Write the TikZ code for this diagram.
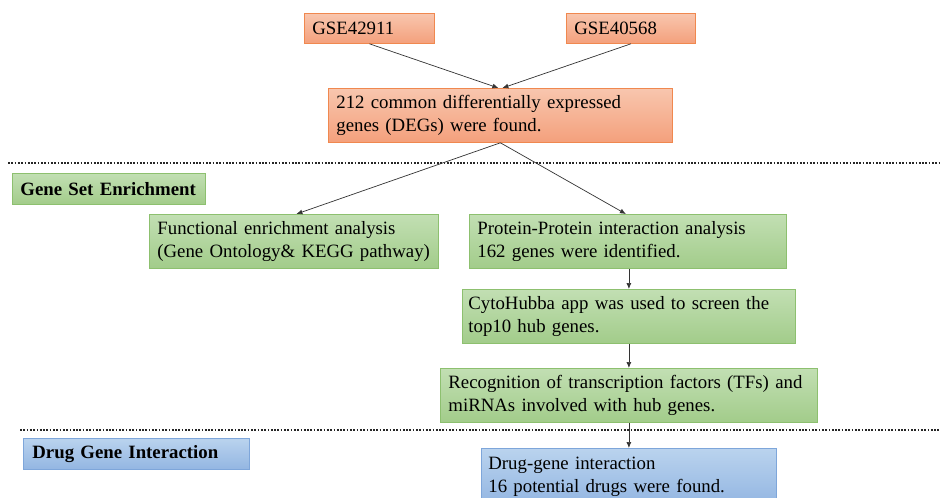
\documentclass[tikz,border=0pt]{standalone}
\usepackage{fontspec}
\setmainfont{Liberation Serif}
\usetikzlibrary{arrows.meta,calc}
\definecolor{orTop}{HTML}{F8C6AE}
\definecolor{orBot}{HTML}{F4A07C}
\definecolor{orLine}{HTML}{F0884F}
\definecolor{grTop}{HTML}{C2DFB3}
\definecolor{grBot}{HTML}{A2CC8A}
\definecolor{grLine}{HTML}{8DC06F}
\definecolor{blTop}{HTML}{BAD3EE}
\definecolor{blBot}{HTML}{93B6E2}
\definecolor{blLine}{HTML}{7EA6DA}
\definecolor{arr}{HTML}{333333}
\begin{document}
\begin{tikzpicture}[x=1pt,y=-1pt,
  font=\fontsize{18.8}{23}\selectfont,
  box/.style={draw, rectangle, anchor=north west, inner xsep=8pt, inner ysep=0pt,
    align=left, line width=0.8pt},
  obox/.style={box, draw=orLine, top color=orTop, bottom color=orBot},
  gbox/.style={box, draw=grLine, top color=grTop, bottom color=grBot},
  bbox/.style={box, draw=blLine, top color=blTop, bottom color=blBot},
  conn/.style={draw=arr, line width=0.7pt, -{Latex[length=6pt,width=5pt]}},
  sep/.style={line width=1.8pt, dash pattern=on 1.7pt off 1.6pt, black!85}
]
\clip (0,0) rectangle (940,498);
\fill[white] (0,0) rectangle (940,498);

% top section
\node[obox, text width=114pt, minimum height=30pt] (g1) at (304,13) {GSE42911};
\node[obox, text width=113pt, minimum height=30pt] (g2) at (566,13) {GSE40568};
\node[obox, text width=328pt, minimum height=54pt] (deg) at (328,88)
  {212 common differentially expressed\\genes (DEGs) were found.};

% separators
\coordinate (s1a) at (8,163);
\coordinate (s1b) at (940,163);
\coordinate (s2a) at (20,430);
\coordinate (s2b) at (940,430);
\draw[sep] (s1a) -- (s1b);
\draw[sep] (s2a) -- (s2b);

% gene set enrichment
\node[gbox, text width=177pt, minimum height=31pt, font=\fontsize{18.8}{23}\selectfont\bfseries] (gse) at (12,173) {Gene Set Enrichment};
\node[gbox, text width=273pt, minimum height=54pt] (func) at (149,214)
  {Functional enrichment analysis\\(Gene Ontology\& KEGG pathway)};
\node[gbox, text width=301pt, minimum height=54pt] (prot) at (469,214)
  {Protein-Protein interaction analysis\\162 genes were identified.};
\node[gbox, inner xsep=6pt, text width=321pt, minimum height=54pt] (cyto) at (462,289)
  {CytoHubba app was used to screen the\\top10 hub genes.};
\node[gbox, text width=361pt, minimum height=54pt] (recog) at (440,368)
  {Recognition of transcription factors (TFs) and\\miRNAs involved with hub genes.};

% drug gene interaction
\node[bbox, inner xsep=9pt, text width=208pt, minimum height=31pt, font=\fontsize{18.8}{23}\selectfont\bfseries] (dgi) at (23,438) {Drug Gene Interaction};
\node[bbox, inner xsep=7pt, text width=281pt, minimum height=56pt] (drug) at (481,448)
  {Drug-gene interaction\\16 potential drugs were found.};

% connectors
\draw[conn] (g1.south) -- ($(deg.north)+(-2,0)$);
\draw[conn] (g2.south) -- ($(deg.north)+(2,0)$);
\draw[conn] (deg.south) -- ($(func.north)+(2.5,0)$);
\draw[conn] (deg.south) -- ($(prot.north)+(-2,0)$);
\draw[conn] (cyto.north |- prot.south) -- (cyto.north);
\draw[conn] (recog.north |- cyto.south) -- (recog.north);
\draw[conn] (drug.north |- recog.south) -- (drug.north);
\end{tikzpicture}
\end{document}
